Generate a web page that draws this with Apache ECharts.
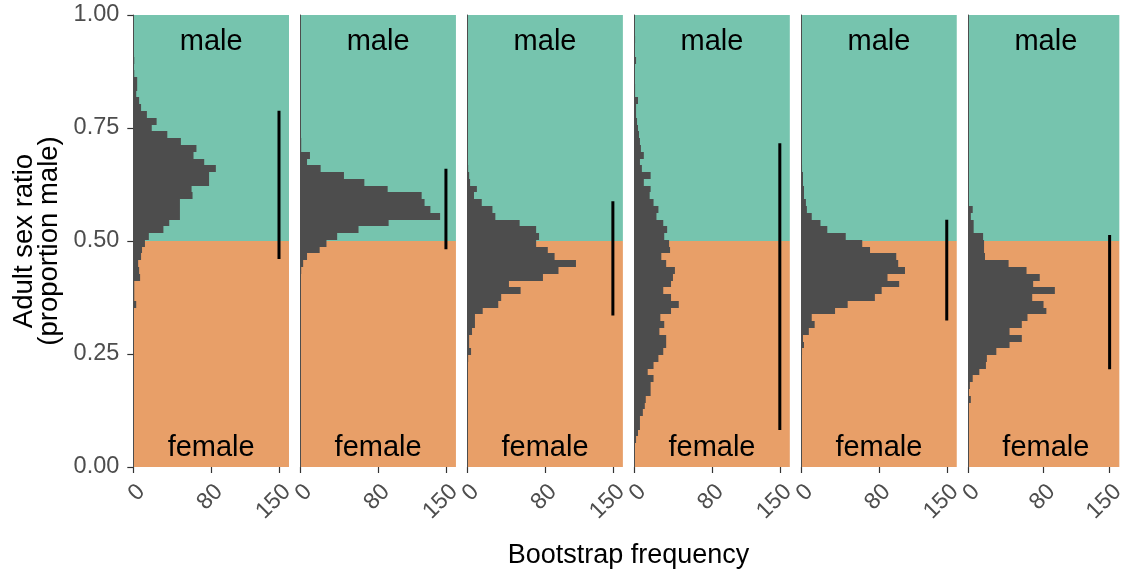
<!DOCTYPE html>
<html>
<head>
<meta charset="utf-8">
<script src="https://cdn.jsdelivr.net/npm/echarts@6/dist/echarts.min.js"></script>
<style>html,body{margin:0;padding:0;background:#fff}#c{width:1128px;height:569px}</style>
</head>
<body>
<div id="c"></div>
<script>
// ---------- data ----------
const BIN_W = 0.015;
const binLower = [
  0.0525,0.0675,0.0825,0.0975,0.1125,0.1275,0.1425,0.1575,0.1725,0.1875,
  0.2025,0.2175,0.2325,0.2475,0.2625,0.2775,0.2925,0.3075,0.3225,0.3375,
  0.3525,0.3675,0.3825,0.3975,0.4125,0.4275,0.4425,0.4575,0.4725,0.4875,
  0.5025,0.5175,0.5325,0.5475,0.5625,0.5775,0.5925,0.6075,0.6225,0.6375,
  0.6525,0.6675,0.6825,0.6975,0.7125,0.7275,0.7425,0.7575,0.7725,0.7875,
  0.8025,0.8175,0.8325,0.8475,0.8625,0.8775,0.8925,0.9075,0.9225,0.9375
];
const counts1 = [
  0,0,0,0,0,0,0,0,0,0,
  0,0,0,0,0,0,0,0,0,0,
  3,1,1,1,7,6,5,8,9,12,
  16,31,37,48,48,48,61,60,78,78,
  85,73,62,65,49,35,19,24,14,8,
  6,3,4,4,1,0,1,0,0,0
];
const counts2 = [
  0,0,0,0,0,0,0,0,0,0,
  0,0,0,0,0,0,0,0,0,0,
  0,0,0,0,0,1,3,7,20,27,
  38,60,91,144,134,128,125,90,66,45,
  21,7,10,1,1,0,0,0,0,0,
  0,0,0,0,0,0,0,0,0,0
];
const counts3 = [
  0,0,0,0,0,0,0,0,0,0,
  0,0,1,4,2,2,5,8,8,16,
  32,35,55,43,78,94,112,90,83,71,
  74,71,54,29,26,15,7,10,3,2,
  1,0,0,0,0,0,0,0,0,0,
  0,0,0,0,0,0,0,0,0,0
];
const counts4 = [
  2,4,6,6,9,11,12,17,17,20,
  14,20,25,30,33,33,26,31,27,38,
  46,38,30,38,40,42,33,28,37,36,
  31,34,30,23,25,20,16,17,10,17,
  8,6,10,7,6,5,4,3,2,2,
  4,1,1,0,0,0,2,0,0,1
];
const counts5 = [
  0,0,0,0,0,0,0,0,0,0,
  0,0,0,1,3,2,8,14,11,35,
  48,76,83,101,89,107,100,98,71,63,
  46,27,20,11,6,5,3,3,2,2,
  1,0,0,0,0,0,0,0,0,0,
  0,0,0,0,0,0,0,0,0,0
];
const counts6 = [
  0,0,0,0,0,1,3,1,2,5,
  12,19,20,30,44,57,44,57,63,83,
  80,68,92,69,76,62,43,18,17,17,
  16,6,6,3,5,1,1,0,0,0,
  0,0,0,0,0,0,0,0,0,0,
  0,0,0,0,0,0,0,0,0,0
];
const panelCounts = [counts1, counts2, counts3, counts4, counts5, counts6];
const ciLow  = [0.460, 0.482, 0.335, 0.082, 0.324, 0.216];
const ciHigh = [0.788, 0.660, 0.588, 0.716, 0.547, 0.513];
const ciX = 150;
const xTicks = [0, 80, 150];
const xMax = 160.3;
const yTickInterval = 0.25;
const bands = [[0.5, 1.0], [0.0, 0.5]];
const bandLabels = ['male', 'female'];
const xTitle = 'Bootstrap frequency';
const yTitle1 = 'Adult sex ratio';
const yTitle2 = '(proportion male)';

// ---------- layout / style ----------
const FONT = 'Liberation Sans';
const GREEN = '#76C4AE', ORANGE = '#E89F68', BAR = '#4D4D4D';
const bandColors = [GREEN, ORANGE];
const P_LEFT0 = 133.3, P_STEP = 166.94, P_W = 155.7, P_TOP = 15, P_H = 452;

const chart = echarts.init(document.getElementById('c'), null, {renderer: 'canvas'});

const grids = [], xAxes = [], yAxes = [], series = [], graphics = [];
for (let i = 0; i < 6; i++) {
  const left = P_LEFT0 + P_STEP * i;
  grids.push({left: left, top: P_TOP, width: P_W, height: P_H, containLabel: false});
  xAxes.push({
    type: 'value', gridIndex: i, min: 0, max: xMax,
    axisLine: {show: false}, splitLine: {show: false},
    axisTick: {show: true, customValues: xTicks, length: 6, lineStyle: {color: '#333', width: 1.2}},
    axisLabel: {show: true, customValues: xTicks, rotate: 45, align: 'right', verticalAlign: 'top',
      margin: 13, fontSize: 23, color: '#4D4D4D', fontFamily: FONT, showMinLabel: true, showMaxLabel: true}
  });
  yAxes.push({
    type: 'value', gridIndex: i, min: 0, max: 1, interval: yTickInterval, z: 10,
    axisLine: {show: true, lineStyle: {color: '#4D4D4D', width: 1}},
    splitLine: {show: false},
    axisTick: {show: i === 0, length: 6, lineStyle: {color: '#333', width: 1.2}},
    axisLabel: {show: i === 0, margin: 14, fontSize: 23.5, color: '#4D4D4D', fontFamily: FONT,
      padding: [4, 0, 0, 0], formatter: v => v.toFixed(2)}
  });
  // background bands
  series.push({
    type: 'custom', xAxisIndex: i, yAxisIndex: i, z: 1, silent: true,
    data: bands,
    encode: {y: [0, 1]},
    renderItem: (params, api) => {
      const cs = params.coordSys;
      const yTop = api.coord([0, api.value(1)])[1];
      const yBot = api.coord([0, api.value(0)])[1];
      return {type: 'rect', shape: {x: cs.x, y: yTop, width: cs.width, height: yBot - yTop},
        style: {fill: bandColors[params.dataIndex]}};
    }
  });
  // histogram
  const hist = binLower.map((lo, j) => [lo, lo + BIN_W, panelCounts[i][j]]).filter(d => d[2] > 0);
  series.push({
    type: 'custom', xAxisIndex: i, yAxisIndex: i, z: 2, silent: true,
    data: hist,
    encode: {x: 2, y: [0, 1]},
    renderItem: (params, api) => {
      const p0 = api.coord([0, api.value(0)]);
      const p1 = api.coord([api.value(2), api.value(1)]);
      const yb = Math.round(p0[1]), yt = Math.round(p1[1]);
      return {type: 'rect', shape: {x: p0[0], y: yt, width: p1[0] - p0[0], height: yb - yt},
        style: {fill: BAR}};
    }
  });
  // confidence interval line
  series.push({
    type: 'line', xAxisIndex: i, yAxisIndex: i, z: 3, silent: true,
    data: [[ciX, ciLow[i]], [ciX, ciHigh[i]]],
    symbol: 'none', lineStyle: {color: '#000', width: 3, cap: 'butt'}
  });
  // male / female labels
  const cx = left + P_W / 2;
  graphics.push({type: 'text', x: cx, y: 41.8, z: 20,
    style: {text: bandLabels[0], fontSize: 29, fontFamily: FONT, fill: '#000', align: 'center', verticalAlign: 'middle'}});
  graphics.push({type: 'text', x: cx, y: 448.3, z: 20,
    style: {text: bandLabels[1], fontSize: 29, fontFamily: FONT, fill: '#000', align: 'center', verticalAlign: 'middle'}});
}
const midX = (P_LEFT0 + P_LEFT0 + P_STEP * 5 + P_W) / 2;
graphics.push({type: 'text', x: midX, y: 555.5,
  style: {text: xTitle, fontSize: 27, fontFamily: FONT, fill: '#000', align: 'center', verticalAlign: 'middle'}});
graphics.push({type: 'text', x: 24, y: P_TOP + P_H / 2, rotation: Math.PI / 2,
  style: {text: yTitle1, fontSize: 27.5, fontFamily: FONT, fill: '#000', align: 'center', verticalAlign: 'middle'}});
graphics.push({type: 'text', x: 49, y: P_TOP + P_H / 2, rotation: Math.PI / 2,
  style: {text: yTitle2, fontSize: 27.5, fontFamily: FONT, fill: '#000', align: 'center', verticalAlign: 'middle'}});

chart.setOption({
  animation: false,
  backgroundColor: '#fff',
  grid: grids, xAxis: xAxes, yAxis: yAxes, series: series,
  graphic: {elements: graphics}
});
</script>
</body>
</html>
